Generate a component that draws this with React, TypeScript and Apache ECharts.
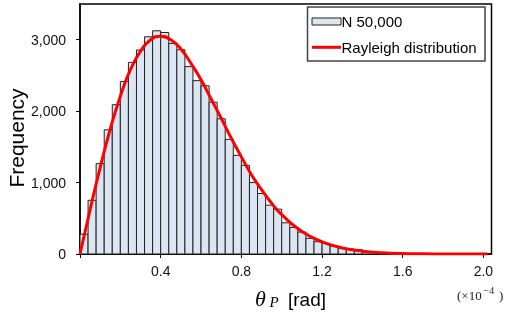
import React, { useEffect, useRef } from "react";
import * as echarts from "echarts";

// Histogram: bin width 0.04 (×1e-4 rad), counts
const BIN_WIDTH = 0.04;
const counts = [
  278, 752, 1265, 1739, 2090, 2416, 2683, 2856, 3041, 3125,
  3101, 2948, 2860, 2623, 2427, 2355, 2125, 1893, 1605, 1381,
  1242, 1000, 847, 683, 628, 437, 372, 307, 219, 172,
  149, 112, 80, 70, 60, 35, 22, 14, 9, 5,
  3, 2, 1, 1, 0, 0, 0, 0, 0, 0,
];

// Rayleigh fit curve
const curveX = [0, 0.05, 0.1, 0.15, 0.2, 0.25, 0.3, 0.35, 0.4, 0.45, 0.5, 0.55, 0.6, 0.65, 0.7, 0.75, 0.8, 0.85, 0.9, 0.95, 1.0, 1.1, 1.2, 1.3, 1.4, 1.5, 1.6, 1.7, 1.8, 1.9, 2.02];
const curveY = [0, 620, 1210, 1750, 2210, 2580, 2840, 3000, 3050, 3000, 2870, 2670, 2440, 2170, 1900, 1620, 1360, 1110, 900, 710, 550, 315, 170, 85, 40, 18, 7, 3, 1, 0, 0];

const xTicks = [0, 0.4, 0.8, 1.2, 1.6, 2.0];
const xLabels = [0.4, 0.8, 1.2, 1.6, 2.0];
const yTicks = [0, 1000, 2000, 3000];
const legendLabels = ["N 50,000", "Rayleigh distribution"];

const SANS = '"Liberation Sans", Arial, sans-serif';
const SERIF = '"Liberation Serif", "Times New Roman", serif';

export default function App() {
  const ref = useRef<HTMLDivElement>(null);
  useEffect(() => {
    const chart = echarts.init(ref.current!, null, { renderer: "svg" });
    const histData = counts.map((c, i) => [i * BIN_WIDTH, (i + 1) * BIN_WIDTH, c]);
    chart.setOption({
      animation: false,
      grid: {
        left: 80, right: 13.5, top: 4, bottom: 66,
        show: true, borderColor: "#000", borderWidth: 1.5,
        containLabel: false, outerBoundsMode: "none",
      },
      xAxis: {
        type: "value", min: 0, max: 2.04, interval: 0.4,
        splitLine: { show: false },
        axisLine: { show: true, onZero: false, lineStyle: { color: "#000", width: 1.5 } },
        axisTick: { show: true, customValues: xTicks, length: 4, lineStyle: { color: "#000", width: 1 } },
        axisLabel: {
          customValues: xLabels,
          formatter: (v: number) => v.toFixed(1),
          margin: 10, fontSize: 14, color: "#111", fontFamily: SANS,
        },
      },
      yAxis: {
        type: "value", min: 0, max: 3500, interval: 1000,
        splitLine: { show: false },
        axisLine: { show: true, lineStyle: { color: "#000", width: 1.5 } },
        axisTick: { show: true, customValues: yTicks, length: 4, lineStyle: { color: "#000", width: 1 } },
        axisLabel: {
          customValues: yTicks,
          formatter: (v: number) => v.toLocaleString("en-US"),
          margin: 14, fontSize: 14, color: "#111", fontFamily: SANS,
        },
      },
      series: [
        {
          type: "custom",
          name: legendLabels[0],
          clip: true,
          z: 2,
          encode: { x: [0, 1], y: 2 },
          data: histData,
          renderItem: (params: any, api: any) => {
            const x0 = api.value(0);
            const x1 = api.value(1);
            const y = api.value(2);
            const p0 = api.coord([x0, y]);
            const p1 = api.coord([x1, 0]);
            return {
              type: "rect",
              shape: { x: p0[0], y: p0[1], width: p1[0] - p0[0], height: p1[1] - p0[1] },
              style: { fill: "#dce6f2", stroke: "#222", lineWidth: 1 },
            };
          },
        },
        {
          type: "line",
          name: legendLabels[1],
          z: 3,
          smooth: true,
          symbol: "none",
          data: curveX.map((x, i) => [x, curveY[i]]),
          lineStyle: { color: "#ff0000", width: 3 },
        },
      ],
      graphic: [
        {
          type: "rect", z: 100,
          shape: { x: 307.5, y: 7, width: 177.5, height: 54 },
          style: { fill: "#fff", stroke: "#444", lineWidth: 1.5 },
        },
        {
          type: "rect", z: 101,
          shape: { x: 312, y: 18, width: 29, height: 7 },
          style: { fill: "#dce6f2", stroke: "#222", lineWidth: 1 },
        },
        {
          type: "line", z: 101,
          shape: { x1: 312, y1: 47.3, x2: 341, y2: 47.3 },
          style: { stroke: "#ff0000", lineWidth: 3 },
        },
        {
          type: "text", z: 101, x: 341.5, y: 21,
          style: { text: legendLabels[0], fontSize: 15, fontFamily: SANS, fill: "#000", align: "left", verticalAlign: "middle" },
        },
        {
          type: "text", z: 101, x: 341.5, y: 47,
          style: { text: legendLabels[1], fontSize: 15, fontFamily: SANS, fill: "#000", align: "left", verticalAlign: "middle" },
        },
        {
          type: "text", z: 101, x: 16, y: 138, rotation: Math.PI / 2,
          style: { text: "Frequency", fontSize: 21, fontFamily: SANS, fill: "#000", align: "center", verticalAlign: "middle" },
        },
        {
          type: "text", z: 101, x: 255, y: 298,
          style: { text: "θ", fontSize: 22, fontStyle: "italic", fontFamily: SERIF, fill: "#000", align: "left", verticalAlign: "middle" },
        },
        {
          type: "text", z: 101, x: 269.5, y: 302,
          style: { text: "P", fontSize: 15, fontStyle: "italic", fontFamily: SERIF, fill: "#000", align: "left", verticalAlign: "middle" },
        },
        {
          type: "text", z: 101, x: 288, y: 299,
          style: { text: "[rad]", fontSize: 19, fontFamily: SANS, fill: "#000", align: "left", verticalAlign: "middle" },
        },
        {
          type: "text", z: 101, x: 457, y: 295,
          style: { text: "(×10", fontSize: 13, fontFamily: SERIF, fill: "#222", align: "left", verticalAlign: "middle" },
        },
        {
          type: "text", z: 101, x: 483.5, y: 290,
          style: { text: "−4", fontSize: 10, fontFamily: SERIF, fill: "#222", align: "left", verticalAlign: "middle" },
        },
        {
          type: "text", z: 101, x: 499, y: 295,
          style: { text: ")", fontSize: 13, fontFamily: SERIF, fill: "#222", align: "left", verticalAlign: "middle" },
        },
      ],
    });
    return () => chart.dispose();
  }, []);
  return <div ref={ref} style={{ position: "fixed", left: 0, top: 0, width: 505, height: 320 }} />;
}
